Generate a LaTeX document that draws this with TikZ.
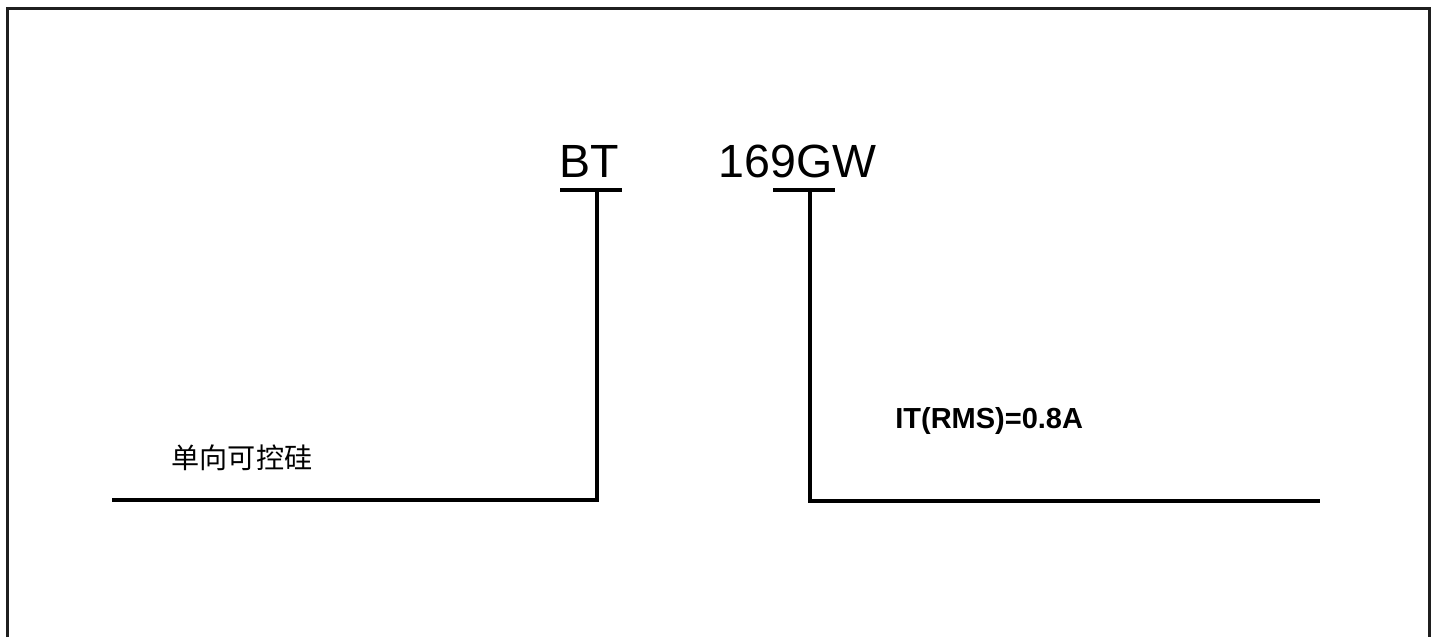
\documentclass[tikz,border=0pt]{standalone}
\usepackage{fontspec}
\setmainfont{Liberation Sans}
\newfontfamily\cjk{Noto Sans CJK SC}
\usepackage{tikz}

\begin{document}
\begin{tikzpicture}[x=0.02cm,y=-0.02cm,
    lead/.style={line width=2pt,black},
    code/.style={inner sep=0pt,anchor=base west,font=\fontsize{26.5}{30}\selectfont},
    note/.style={inner sep=0pt,font=\fontsize{16.5}{20}\selectfont}]

        % page size
        \useasboundingbox (0,0) rectangle (1435,637);

        % frame (open at bottom)
        \draw[line width=1.8pt,black!88] (7.5,637) -- (7.5,8.5) -- (1429.5,8.5) -- (1429.5,637);

        % type code
        \node[code] (bt) at (559.5,177) {BT};
        \node[code] (num) at (718,177) {169GW};

        % lead of BT
        \coordinate (btl) at (560,190);
        \coordinate (btr) at (622,190);
        \coordinate (btm) at (597,190);
        \coordinate (btc) at (597,500);
        \coordinate (bte) at (112,500);
        \draw[lead] (btl) -- (btr);
        \draw[lead] (btm) -- (btc) -- (bte);

        % lead of G
        \coordinate (gl) at (773,190);
        \coordinate (gr) at (835,190);
        \coordinate (gm) at (810,190);
        \coordinate (gc) at (810,501);
        \coordinate (ge) at (1320,501);
        \draw[lead] (gl) -- (gr);
        \draw[lead] (gm) -- (gc) -- (ge);

        % labels
        \node[note,font=\cjk\fontsize{16}{20}\selectfont] (kind) at (242,457.5) {单向可控硅};
        \node[note,anchor=base west,font=\bfseries\fontsize{16.5}{20}\selectfont] (rms) at (895,428) {IT(RMS)=0.8A};

    \end{tikzpicture}
\end{document}
